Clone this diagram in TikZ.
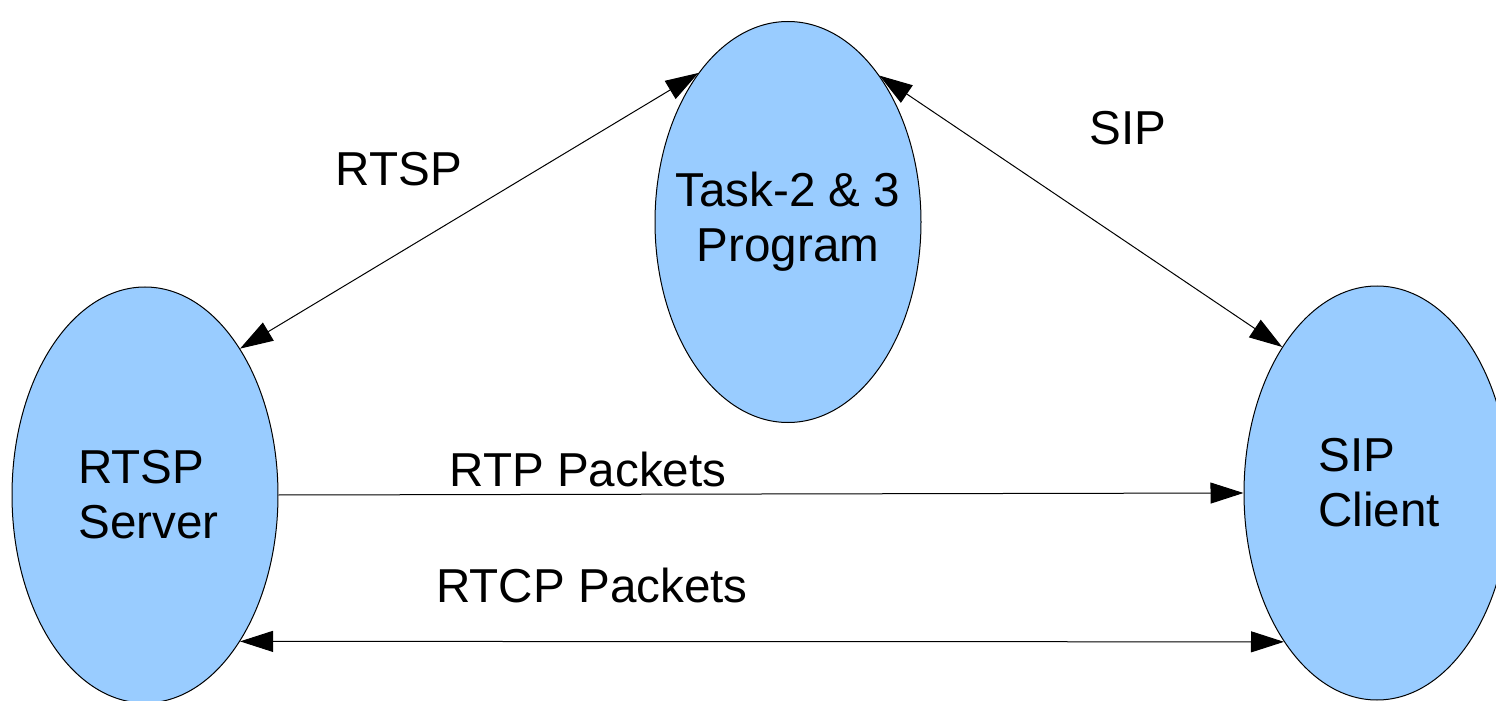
\documentclass[tikz,border=0pt]{standalone}
\usepackage{fontspec}
\setmainfont{Liberation Sans}
\usepackage{xcolor}
\usetikzlibrary{shapes.geometric, arrows.meta}
\definecolor{procblue}{HTML}{99CCFF}

\begin{document}
\begin{tikzpicture}[
x=0.5pt,y=-0.5pt,
>={Triangle[length=16.5pt,width=10.5pt]},
every node/.style={font=\fontsize{23.8}{27.5}\selectfont},
proc/.style={
    ellipse,minimum width=133pt,inner sep=0pt,draw=black,line width=0.5pt,fill=procblue
},
txt/.style={
    inner sep=0pt
}
]
    \useasboundingbox (0,0) rectangle (1496,701);
    \clip (0,0) rectangle (1496,701);

    \node(N1)[proc,minimum height=208pt] at (145,495){};
    \node(N2)[proc,minimum height=200.5pt] at (788,222){};
    \node(N3)[proc,minimum height=207pt] at (1377,493){};

    \node(T1)[txt,anchor=west,align=left] at (78,495){RTSP\\Server};
    \node(T2)[txt,align=center] at (788,222){Task-2 \& 3\\Program};
    \node(T3)[txt,anchor=west,align=left] at (1318,483){SIP\\Client};

    \node(L1)[txt,anchor=base] at (399,185){RTSP};
    \node(L2)[txt,anchor=base] at (1128,145){SIP};
    \node(L3)[txt,anchor=base] at (588,486){RTP Packets};
    \node(L4)[txt,anchor=base] at (592,602){RTCP Packets};

    \draw[<->,line width=0.5pt] (N1.57.1) to (N2.121.7);
    \draw[<->,line width=0.5pt] (N2.58.4) to (N3.123);
    \draw[->,line width=0.5pt] (N1.east) to (N3.west);
    \draw[<->,line width=0.5pt] (N1.-57.1) to (N3.-122.2);
\end{tikzpicture}
\end{document}
